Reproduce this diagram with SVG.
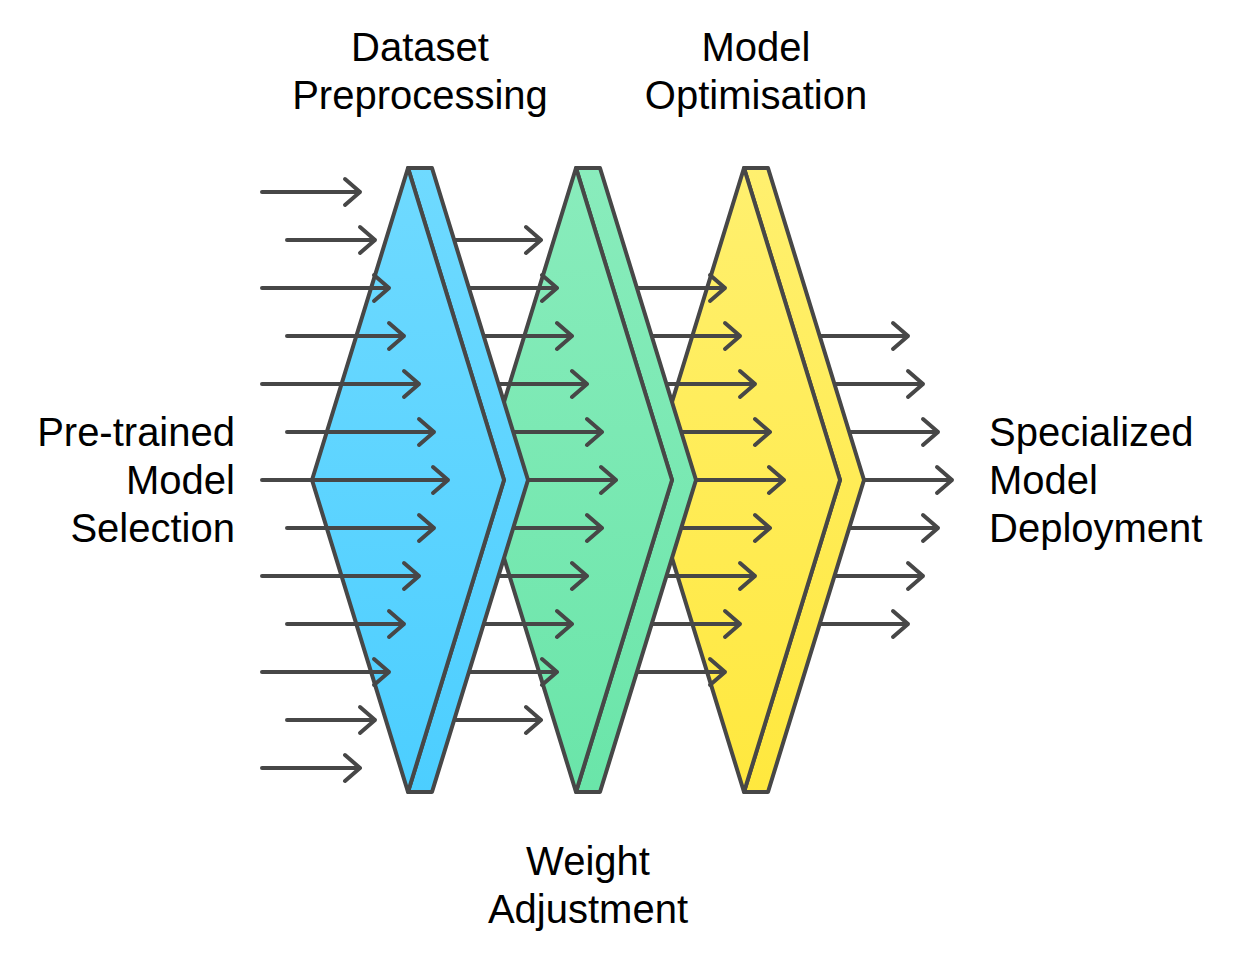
<svg xmlns="http://www.w3.org/2000/svg" width="1248" height="960" viewBox="0 0 1248 960">
<style>
.lbl{font-family:"Liberation Sans",Arial,sans-serif;font-size:40px;fill:#000}
.shape{stroke:#474747;stroke-width:4;stroke-linejoin:round}
.arr{fill:none;stroke:#474747;stroke-width:4;stroke-linecap:round;stroke-linejoin:round}
</style>
<defs>
<linearGradient id="gB" x1="0" y1="0" x2="0" y2="1"><stop offset="0" stop-color="#6FDAFF"/><stop offset="1" stop-color="#4CCEFF"/></linearGradient>
<linearGradient id="gG" x1="0" y1="0" x2="0" y2="1"><stop offset="0" stop-color="#89ECBC"/><stop offset="1" stop-color="#6AE5A9"/></linearGradient>
<linearGradient id="gY" x1="0" y1="0" x2="0" y2="1"><stop offset="0" stop-color="#FFF06F"/><stop offset="1" stop-color="#FFE83E"/></linearGradient>
</defs>
<rect width="1248" height="960" fill="#fff"/>
<g id="connectors-out">
<path class="arr" d="M766 336H908M893 323L908 336L893 349"/>
<path class="arr" d="M766 384H923M908 371L923 384L908 397"/>
<path class="arr" d="M766 432H938M923 419L938 432L923 445"/>
<path class="arr" d="M766 480H952M937 467L952 480L937 493"/>
<path class="arr" d="M766 528H938M923 515L938 528L923 541"/>
<path class="arr" d="M766 576H923M908 563L923 576L908 589"/>
<path class="arr" d="M766 624H908M893 611L908 624L893 637"/>
</g>
<g id="node-optimisation">
<polygon class="shape" fill="url(#gY)" points="744,168 768,168 864,480 768,792 744,792 840,480"/>
<polygon class="shape" fill="url(#gY)" points="744,168 840,480 744,792 648,480"/>
</g>
<g id="connectors-3">
<path class="arr" d="M598 288H725M710 275L725 288L710 301"/>
<path class="arr" d="M598 336H740M725 323L740 336L725 349"/>
<path class="arr" d="M598 384H755M740 371L755 384L740 397"/>
<path class="arr" d="M598 432H770M755 419L770 432L755 445"/>
<path class="arr" d="M598 480H784M769 467L784 480L769 493"/>
<path class="arr" d="M598 528H770M755 515L770 528L755 541"/>
<path class="arr" d="M598 576H755M740 563L755 576L740 589"/>
<path class="arr" d="M598 624H740M725 611L740 624L725 637"/>
<path class="arr" d="M598 672H725M710 659L725 672L710 685"/>
</g>
<g id="node-weight">
<polygon class="shape" fill="url(#gG)" points="576,168 600,168 696,480 600,792 576,792 672,480"/>
<polygon class="shape" fill="url(#gG)" points="576,168 672,480 576,792 480,480"/>
</g>
<g id="connectors-2">
<path class="arr" d="M430 240H541M526 227L541 240L526 253"/>
<path class="arr" d="M430 288H557M542 275L557 288L542 301"/>
<path class="arr" d="M430 336H572M557 323L572 336L557 349"/>
<path class="arr" d="M430 384H587M572 371L587 384L572 397"/>
<path class="arr" d="M430 432H602M587 419L602 432L587 445"/>
<path class="arr" d="M430 480H616M601 467L616 480L601 493"/>
<path class="arr" d="M430 528H602M587 515L602 528L587 541"/>
<path class="arr" d="M430 576H587M572 563L587 576L572 589"/>
<path class="arr" d="M430 624H572M557 611L572 624L557 637"/>
<path class="arr" d="M430 672H557M542 659L557 672L542 685"/>
<path class="arr" d="M430 720H541M526 707L541 720L526 733"/>
</g>
<g id="node-dataset">
<polygon class="shape" fill="url(#gB)" points="408,168 432,168 528,480 432,792 408,792 504,480"/>
<polygon class="shape" fill="url(#gB)" points="408,168 504,480 408,792 312,480"/>
</g>
<g id="connectors-1">
<path class="arr" d="M262 192H360M345 179L360 192L345 205"/>
<path class="arr" d="M287 240H375M360 227L375 240L360 253"/>
<path class="arr" d="M262 288H389M374 275L389 288L374 301"/>
<path class="arr" d="M287 336H404M389 323L404 336L389 349"/>
<path class="arr" d="M262 384H419M404 371L419 384L404 397"/>
<path class="arr" d="M287 432H434M419 419L434 432L419 445"/>
<path class="arr" d="M262 480H448M433 467L448 480L433 493"/>
<path class="arr" d="M287 528H434M419 515L434 528L419 541"/>
<path class="arr" d="M262 576H419M404 563L419 576L404 589"/>
<path class="arr" d="M287 624H404M389 611L404 624L389 637"/>
<path class="arr" d="M262 672H389M374 659L389 672L374 685"/>
<path class="arr" d="M287 720H375M360 707L375 720L360 733"/>
<path class="arr" d="M262 768H360M345 755L360 768L345 781"/>
</g>
<g id="label-dataset"><text class="lbl" text-anchor="middle" x="420" y="61">Dataset</text><text class="lbl" text-anchor="middle" x="420" y="109">Preprocessing</text></g>
<g id="label-optimisation"><text class="lbl" text-anchor="middle" x="756" y="61">Model</text><text class="lbl" text-anchor="middle" x="756" y="109">Optimisation</text></g>
<g id="label-selection"><text class="lbl" text-anchor="end" x="235" y="446">Pre-trained</text><text class="lbl" text-anchor="end" x="235" y="494">Model</text><text class="lbl" text-anchor="end" x="235" y="542">Selection</text></g>
<g id="label-deployment"><text class="lbl" x="989" y="446">Specialized</text><text class="lbl" x="989" y="494">Model</text><text class="lbl" x="989" y="542">Deployment</text></g>
<g id="label-weight"><text class="lbl" text-anchor="middle" x="588" y="875">Weight</text><text class="lbl" text-anchor="middle" x="588" y="923">Adjustment</text></g>
</svg>
